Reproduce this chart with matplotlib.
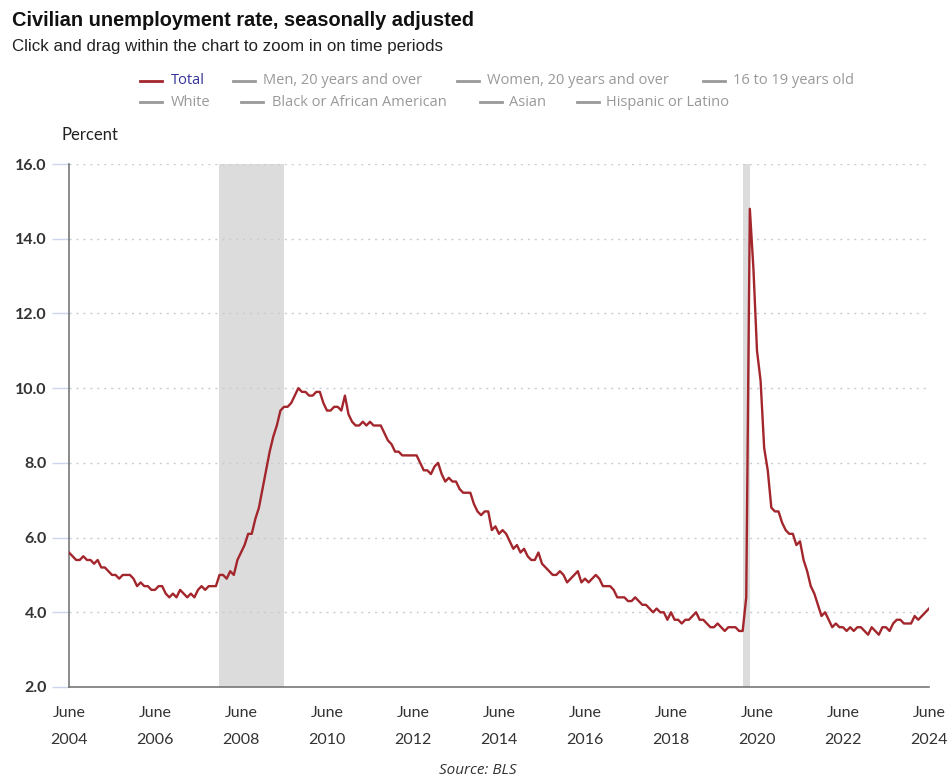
import matplotlib
matplotlib.use("Agg")
import matplotlib.pyplot as plt
import numpy as np
from matplotlib.lines import Line2D

# Civilian unemployment rate, seasonally adjusted, June 2004 - June 2024 (monthly)
rate_2004 = [5.6, 5.5, 5.4, 5.4, 5.5, 5.4, 5.4]
rate_2005 = [5.3, 5.4, 5.2, 5.2, 5.1, 5.0, 5.0, 4.9, 5.0, 5.0, 5.0, 4.9]
rate_2006 = [4.7, 4.8, 4.7, 4.7, 4.6, 4.6, 4.7, 4.7, 4.5, 4.4, 4.5, 4.4]
rate_2007 = [4.6, 4.5, 4.4, 4.5, 4.4, 4.6, 4.7, 4.6, 4.7, 4.7, 4.7, 5.0]
rate_2008 = [5.0, 4.9, 5.1, 5.0, 5.4, 5.6, 5.8, 6.1, 6.1, 6.5, 6.8, 7.3]
rate_2009 = [7.8, 8.3, 8.7, 9.0, 9.4, 9.5, 9.5, 9.6, 9.8, 10.0, 9.9, 9.9]
rate_2010 = [9.8, 9.8, 9.9, 9.9, 9.6, 9.4, 9.4, 9.5, 9.5, 9.4, 9.8, 9.3]
rate_2011 = [9.1, 9.0, 9.0, 9.1, 9.0, 9.1, 9.0, 9.0, 9.0, 8.8, 8.6, 8.5]
rate_2012 = [8.3, 8.3, 8.2, 8.2, 8.2, 8.2, 8.2, 8.0, 7.8, 7.8, 7.7, 7.9]
rate_2013 = [8.0, 7.7, 7.5, 7.6, 7.5, 7.5, 7.3, 7.2, 7.2, 7.2, 6.9, 6.7]
rate_2014 = [6.6, 6.7, 6.7, 6.2, 6.3, 6.1, 6.2, 6.1, 5.9, 5.7, 5.8, 5.6]
rate_2015 = [5.7, 5.5, 5.4, 5.4, 5.6, 5.3, 5.2, 5.1, 5.0, 5.0, 5.1, 5.0]
rate_2016 = [4.8, 4.9, 5.0, 5.1, 4.8, 4.9, 4.8, 4.9, 5.0, 4.9, 4.7, 4.7]
rate_2017 = [4.7, 4.6, 4.4, 4.4, 4.4, 4.3, 4.3, 4.4, 4.3, 4.2, 4.2, 4.1]
rate_2018 = [4.0, 4.1, 4.0, 4.0, 3.8, 4.0, 3.8, 3.8, 3.7, 3.8, 3.8, 3.9]
rate_2019 = [4.0, 3.8, 3.8, 3.7, 3.6, 3.6, 3.7, 3.6, 3.5, 3.6, 3.6, 3.6]
rate_2020 = [3.5, 3.5, 4.4, 14.8, 13.2, 11.0, 10.2, 8.4, 7.8, 6.8, 6.7, 6.7]
rate_2021 = [6.4, 6.2, 6.1, 6.1, 5.8, 5.9, 5.4, 5.1, 4.7, 4.5, 4.2, 3.9]
rate_2022 = [4.0, 3.8, 3.6, 3.7, 3.6, 3.6, 3.5, 3.6, 3.5, 3.6, 3.6, 3.5]
rate_2023 = [3.4, 3.6, 3.5, 3.4, 3.6, 3.6, 3.5, 3.7, 3.8, 3.8, 3.7, 3.7]
rate_2024 = [3.7, 3.9, 3.8, 3.9, 4.0, 4.1]

rate = (rate_2004 + rate_2005 + rate_2006 + rate_2007 + rate_2008 + rate_2009 +
        rate_2010 + rate_2011 + rate_2012 + rate_2013 + rate_2014 + rate_2015 +
        rate_2016 + rate_2017 + rate_2018 + rate_2019 + rate_2020 + rate_2021 +
        rate_2022 + rate_2023 + rate_2024)

# recessions, in months since June 2004
recessions = [(42, 60), (188, 190)]

tick_years = ["2004", "2006", "2008", "2010", "2012", "2014", "2016",
              "2018", "2020", "2022", "2024"]
y_ticks = [2.0, 4.0, 6.0, 8.0, 10.0, 12.0, 14.0, 16.0]

series_row1 = ["Total", "Men, 20 years and over", "Women, 20 years and over", "16 to 19 years old"]
series_row2 = ["White", "Black or African American", "Asian", "Hispanic or Latino"]

W, H = 953, 784
fig = plt.figure(figsize=(W / 100, H / 100), dpi=100)
ax = fig.add_axes([69 / W, 1 - 687 / H, 860 / W, 523 / H])

months = np.arange(len(rate))
for a, b in recessions:
    ax.axvspan(a, b, color="#dcdcdc", lw=0, zorder=0)
ax.plot(months, rate, color="#a3262c", lw=1.7, zorder=3)

ax.set_xlim(0, len(rate) - 1)
ax.set_ylim(2, 16)
ax.set_yticks(y_ticks)
ax.set_yticklabels(["%.1f" % v for v in y_ticks], fontfamily="Lato",
                   fontweight="bold", fontsize=11.5, color="#333333")
ax.set_xticks(np.arange(0, len(rate), 24))
ax.set_xticklabels(["June\n" + y for y in tick_years], fontfamily="Lato",
                   fontsize=11.5, color="#333333", linespacing=2.1)
ax.tick_params(axis="y", length=12, width=1, color="#ccd6eb", pad=4)
ax.tick_params(axis="x", length=0, pad=14)

for v in y_ticks[1:]:
    ax.axhline(v, color="#c8ccd6", lw=1, ls=(0, (1.5, 3.5)), zorder=1)

for s in ["top", "right"]:
    ax.spines[s].set_visible(False)
ax.spines["left"].set_color("#777777")
ax.spines["bottom"].set_color("#777777")
ax.spines["left"].set_linewidth(1.2)
ax.spines["bottom"].set_linewidth(1.2)

# title and subtitle
fig.text(12 / W, 1 - 20 / H, "Civilian unemployment rate, seasonally adjusted",
         fontfamily="Liberation Sans", fontweight="bold", fontsize=14.4,
         color="#111111", va="center", ha="left")
fig.text(12 / W, 1 - 47 / H, "Click and drag within the chart to zoom in on time periods",
         fontfamily="Liberation Sans", fontsize=12.2, color="#222222",
         va="center", ha="left")
fig.text(62 / W, 1 - 135 / H, "Percent", fontfamily="Lato", fontsize=12,
         color="#222222", va="center", ha="left")

# legend, drawn by hand to keep the flowing layout
row1_x = [(140, 171), (233, 263), (457, 487), (703, 733)]
row2_x = [(140, 171), (241, 272), (480, 509), (577, 606)]
for names, xs, yy in [(series_row1, row1_x, 81), (series_row2, row2_x, 102)]:
    for name, (hx, tx) in zip(names, xs):
        col = "#a3262c" if name == "Total" else "#999999"
        tcol = "#333399" if name == "Total" else "#999999"
        fig.add_artist(Line2D([hx / W, (hx + 22) / W], [1 - yy / H, 1 - yy / H],
                              color=col, lw=2))
        fig.text(tx / W, 1 - yy / H, name, fontfamily="Open Sans", fontsize=10.5,
                 color=tcol, va="center", ha="left")

fig.text(478 / W, 1 - 771 / H, "Source: BLS", fontfamily="Open Sans",
         fontstyle="italic", fontsize=11, color="#333333", va="center", ha="center")

fig.savefig("out.png", dpi=100, facecolor="white")
